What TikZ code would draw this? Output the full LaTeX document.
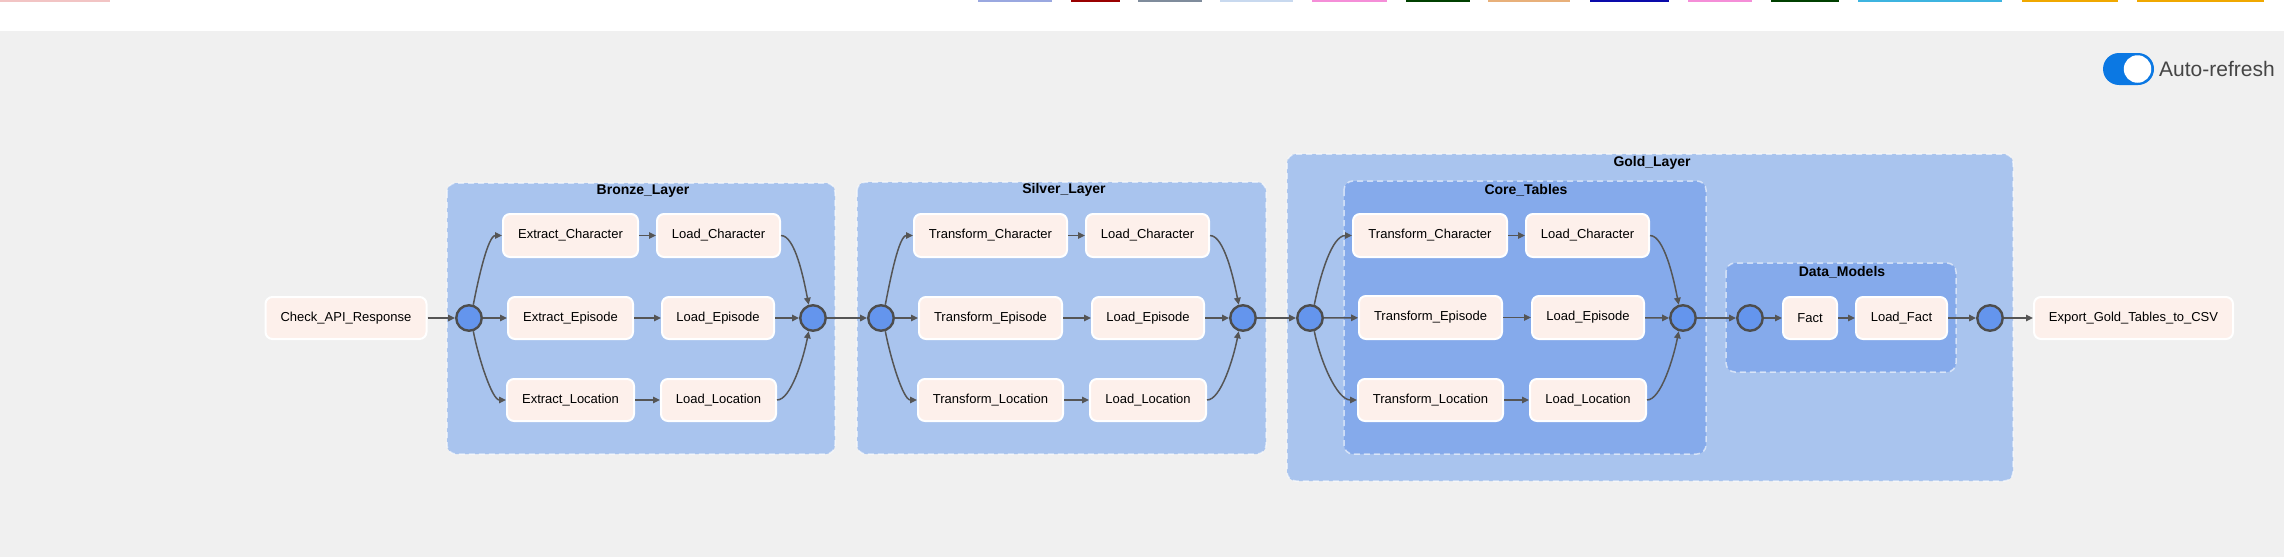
\documentclass[tikz,border=0pt]{standalone}
\usepackage{fontspec}
\setmainfont{Liberation Sans}
\usetikzlibrary{arrows.meta}
\definecolor{bgcol}{HTML}{F0F0F0}
\definecolor{taskfill}{HTML}{FDF0EB}
\definecolor{joinfill}{HTML}{6495ED}
\definecolor{joinedge}{HTML}{4D4D4D}
\definecolor{edgecol}{HTML}{555555}
\definecolor{outerfill}{HTML}{A9C4EE}
\definecolor{innerfill}{HTML}{85AAEB}
\definecolor{togcol}{HTML}{0B78E3}
\definecolor{txtgray}{HTML}{454545}
\definecolor{barA}{HTML}{F2C4C4}
\definecolor{barB}{HTML}{9AA8E0}
\definecolor{barC}{HTML}{990000}
\definecolor{barD}{HTML}{7F8C9C}
\definecolor{barE}{HTML}{C8D9EF}
\definecolor{barF}{HTML}{F58ED8}
\definecolor{barG}{HTML}{004000}
\definecolor{barH}{HTML}{E8B07A}
\definecolor{barI}{HTML}{0A0AAA}
\definecolor{barJ}{HTML}{3DB4E0}
\definecolor{barK}{HTML}{F0A800}
\begin{document}
\begin{tikzpicture}[x=1pt,y=-1pt,
  task/.style={draw=white, line width=2pt, fill=taskfill, rounded corners=7pt,
    minimum height=42pt, inner sep=0pt, font=\fontsize{13}{15}\selectfont, text=black},
  joinnode/.style={circle, draw=joinedge, fill=joinfill, line width=2.4pt,
    minimum size=25.5pt, inner sep=0pt},
  grp/.style={fill=#1, draw=white, draw opacity=0.6, dash pattern=on 6pt off 4pt,
    line width=1.5pt, rounded corners=9pt},
  ttl/.style={font=\bfseries\fontsize{14}{16}\selectfont, text=black, inner sep=0pt},
  edge/.style={draw=edgecol, line width=1.5pt, -{Triangle[length=7pt,width=6.5pt]}},
  topbar/.style={fill=#1}
]
\useasboundingbox (0,0) rectangle (2284,557);
% background
\fill[bgcol] (0,0) rectangle (2284,557);
\fill[white] (0,0) rectangle (2284,31);
% top bars
\fill[topbar=barA] (0,0) rectangle (110,2);
\fill[topbar=barB] (978,0) rectangle (1052,2);
\fill[topbar=barC] (1071,0) rectangle (1120,2);
\fill[topbar=barD] (1138,0) rectangle (1202,2);
\fill[topbar=barE] (1220,0) rectangle (1293,2);
\fill[topbar=barF] (1312,0) rectangle (1387,2);
\fill[topbar=barG] (1406,0) rectangle (1470,2);
\fill[topbar=barH] (1488,0) rectangle (1570,2);
\fill[topbar=barI] (1590,0) rectangle (1669,2);
\fill[topbar=barF] (1688,0) rectangle (1752,2);
\fill[topbar=barG] (1771,0) rectangle (1839,2);
\fill[topbar=barJ] (1858,0) rectangle (2002,2);
\fill[topbar=barK] (2022,0) rectangle (2118,2);
\fill[topbar=barK] (2137,0) rectangle (2264,2);
% auto-refresh toggle
\node[fill=togcol, rounded corners=16pt, minimum width=51pt, minimum height=32pt, inner sep=0pt] (tog) at (2128.5,69) {};
\node[circle, fill=white, minimum size=27.5pt, inner sep=0pt] (knob) at (2137.5,69) {};
\node[anchor=base west, inner sep=0pt, text=txtgray, font=\fontsize{21}{24}\selectfont] (autoref) at (2159,76) {Auto-refresh};
% groups
\draw[grp=outerfill] (447,183) rectangle (835,454);
\draw[grp=outerfill] (857,182) rectangle (1266,454);
\draw[grp=outerfill] (1287,154) rectangle (2013,481);
\draw[grp=innerfill] (1344,181) rectangle (1706,454);
\draw[grp=innerfill] (1726,263) rectangle (1956,372);
\node[ttl] (tbronze) at (643,191) {Bronze\_Layer};
\node[ttl] (tsilver) at (1064,190) {Silver\_Layer};
\node[ttl] (tgold) at (1652,163) {Gold\_Layer};
\node[ttl] (tcore) at (1526,190) {Core\_Tables};
\node[ttl] (tdm) at (1842,272) {Data\_Models};
% tasks
\node[task, minimum width=161pt] (chk) at (346,318) {Check\_API\_Response};
\node[joinnode] (c1) at (469,318) {};
\node[task, minimum width=135pt, minimum height=43pt] (ec) at (570.5,235.5) {Extract\_Character};
\node[task, minimum width=123pt, minimum height=43pt] (lc) at (718.5,235.5) {Load\_Character};
\node[task, minimum width=125pt] (ee) at (570.5,318) {Extract\_Episode};
\node[task, minimum width=112pt] (le) at (718,318) {Load\_Episode};
\node[task, minimum width=127pt] (el) at (570.5,400) {Extract\_Location};
\node[task, minimum width=115pt] (ll) at (718.5,400) {Load\_Location};
\node[joinnode] (c2) at (813,318) {};
\node[joinnode] (c3) at (881,318) {};
\node[task, minimum width=153pt, minimum height=43pt] (stc) at (990.5,235.5) {Transform\_Character};
\node[task, minimum width=123pt, minimum height=43pt] (slc) at (1147.5,235.5) {Load\_Character};
\node[task, minimum width=143pt] (ste) at (990.5,318) {Transform\_Episode};
\node[task, minimum width=112pt] (sle) at (1148,318) {Load\_Episode};
\node[task, minimum width=145pt] (stl) at (990.5,400) {Transform\_Location};
\node[task, minimum width=116pt] (sll) at (1148,400) {Load\_Location};
\node[joinnode] (c4) at (1243,318) {};
\node[joinnode] (c5) at (1310,318) {};
\node[task, minimum width=154pt, minimum height=43pt] (gtc) at (1430,235.5) {Transform\_Character};
\node[task, minimum width=123pt, minimum height=43pt] (glc) at (1587.5,235.5) {Load\_Character};
\node[task, minimum width=143pt, minimum height=43pt] (gte) at (1430.5,317.5) {Transform\_Episode};
\node[task, minimum width=112pt, minimum height=43pt] (gle) at (1588,317.5) {Load\_Episode};
\node[task, minimum width=145pt] (gtl) at (1430.5,400) {Transform\_Location};
\node[task, minimum width=116pt] (gll) at (1588,400) {Load\_Location};
\node[joinnode] (c6) at (1683,318) {};
\node[joinnode] (c7) at (1750,318) {};
\node[task, minimum width=54pt] (fact) at (1810,318) {Fact};
\node[task, minimum width=91pt] (lf) at (1901.5,318) {Load\_Fact};
\node[joinnode] (c8) at (1990,318) {};
\node[task, minimum width=199pt] (exp) at (2133.5,318) {Export\_Gold\_Tables\_to\_CSV};
% edges: bronze
\draw[edge] (chk) -- (c1);
\draw[edge] (c1.72) .. controls +(5,-26) and +(-14,0) .. (ec.west);
\draw[edge] (c1) -- (ee);
\draw[edge] (c1.-72) .. controls +(5,26) and +(-14,0) .. (el.west);
\draw[edge] (ec) -- (lc);
\draw[edge] (ee) -- (le);
\draw[edge] (el) -- (ll);
\draw[edge] (lc.east) .. controls +(14,0) and +(-5,-26) .. (c2.108);
\draw[edge] (le) -- (c2);
\draw[edge] (ll.east) .. controls +(14,0) and +(-5,26) .. (c2.-108);
% silver
\draw[edge] (c2) -- (c3);
\draw[edge] (c3.72) .. controls +(5,-26) and +(-14,0) .. (stc.west);
\draw[edge] (c3) -- (ste);
\draw[edge] (c3.-72) .. controls +(5,26) and +(-14,0) .. (stl.west);
\draw[edge] (stc) -- (slc);
\draw[edge] (ste) -- (sle);
\draw[edge] (stl) -- (sll);
\draw[edge] (slc.east) .. controls +(14,0) and +(-5,-26) .. (c4.108);
\draw[edge] (sle) -- (c4);
\draw[edge] (sll.east) .. controls +(14,0) and +(-5,26) .. (c4.-108);
% gold
\draw[edge] (c4) -- (c5);
\draw[edge] (c5.72) .. controls +(6,-30) and +(-20,0) .. (gtc.west);
\draw[edge] (c5) -- (gte);
\draw[edge] (c5.-72) .. controls +(6,30) and +(-20,0) .. (gtl.west);
\draw[edge] (gtc) -- (glc);
\draw[edge] (gte) -- (gle);
\draw[edge] (gtl) -- (gll);
\draw[edge] (glc.east) .. controls +(14,0) and +(-5,-26) .. (c6.108);
\draw[edge] (gle) -- (c6);
\draw[edge] (gll.east) .. controls +(14,0) and +(-5,26) .. (c6.-108);
\draw[edge] (c6) -- (c7);
\draw[edge] (c7) -- (fact);
\draw[edge] (fact) -- (lf);
\draw[edge] (lf) -- (c8);
\draw[edge] (c8) -- (exp);
\end{tikzpicture}
\end{document}
